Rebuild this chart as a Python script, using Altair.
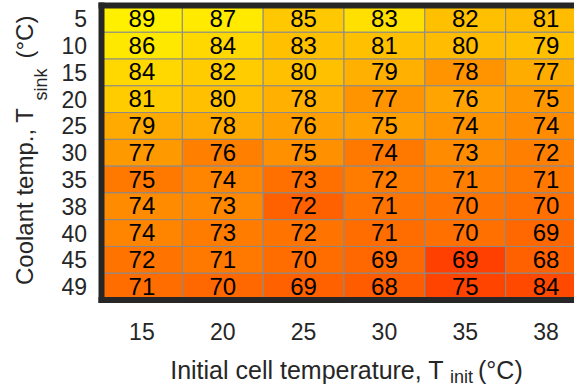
import altair as alt
import pandas as pd

# Columns: initial cell temperature (°C); rows: coolant temperature (°C)
t_init = [15, 20, 25, 30, 35, 38]
t_sink = [5, 10, 15, 20, 25, 30, 35, 38, 40, 45, 49]

# Cell labels (row by row, coolant temp 5 -> 49)
values = [
    [89, 87, 85, 83, 82, 81],
    [86, 84, 83, 81, 80, 79],
    [84, 82, 80, 79, 78, 77],
    [81, 80, 78, 77, 76, 75],
    [79, 78, 76, 75, 74, 74],
    [77, 76, 75, 74, 73, 72],
    [75, 74, 73, 72, 71, 71],
    [74, 73, 72, 71, 70, 70],
    [74, 73, 72, 71, 70, 69],
    [72, 71, 70, 69, 69, 68],
    [71, 70, 69, 68, 75, 84],
]

# Colour level of each cell (0 = red, 255 = yellow)
shade = [
    [240, 234, 200, 224, 192, 188],
    [232, 216, 192, 192, 188, 192],
    [216, 204, 192, 176, 148, 172],
    [204, 192, 176, 148, 164, 152],
    [170, 170, 160, 160, 148, 140],
    [153, 128, 144, 120, 140, 128],
    [120, 132, 112, 124, 128, 120],
    [140, 136, 96, 116, 116, 112],
    [132, 124, 116, 108, 112, 104],
    [116, 120, 108, 104, 64, 96],
    [108, 104, 96, 92, 68, 72],
]

rows = []
for i, ts in enumerate(t_sink):
    for j, ti in enumerate(t_init):
        rows.append({"tinit": ti, "tsink": ts, "value": values[i][j], "shade": shade[i][j]})
df = pd.DataFrame(rows)

FONT = "Liberation Sans"
DARK = "#262626"

x_enc = alt.X("tinit:O", sort=t_init,
              scale=alt.Scale(range=[0, 485], paddingInner=0, paddingOuter=0),
              axis=alt.Axis(title=None, labelAngle=0, labelFontSize=23, labelFont=FONT,
                            labelColor=DARK, ticks=False, tickSize=0, domain=False,
                            labelPadding=39, labelBaseline="alphabetic", grid=False))
y_enc = alt.Y("tsink:O", sort=t_sink,
              scale=alt.Scale(paddingInner=0, paddingOuter=0),
              axis=alt.Axis(title=None, labelFontSize=23, labelFont=FONT, labelColor=DARK,
                            ticks=False, tickSize=0, domain=False, labelPadding=15,
                            labelBaseline="middle", labelOffset=1.5, grid=False))

base = alt.Chart(df)

cells = base.mark_rect(stroke="#8a8a8a", strokeWidth=1).encode(
    x=x_enc, y=y_enc,
    color=alt.Color("shade:Q",
                    scale=alt.Scale(domain=[0, 255], range=["#ff0000", "#ffff00"],
                                    interpolate="rgb"),
                    legend=None),
)

labels = base.mark_text(fontSize=24, font=FONT, color="black", baseline="middle", dy=1).encode(
    x=x_enc, y=y_enc, text="value:Q"
)

one = alt.Data(values=[{"k": 0}])
frame_kw = dict(color=DARK, strokeWidth=6, strokeCap="square")
top = alt.Chart(one).mark_rule(**frame_kw).encode(
    x=alt.value(0), x2=alt.value(480), y=alt.value(0))
left = alt.Chart(one).mark_rule(**frame_kw).encode(
    x=alt.value(0), y=alt.value(0), y2=alt.value(294.5))
bottom = alt.Chart(one).mark_rule(**frame_kw).encode(
    x=alt.value(0), x2=alt.value(480), y=alt.value(294.5))

txt = dict(font=FONT, color=DARK, baseline="alphabetic")
x_main = alt.Chart(one).mark_text(text="Initial cell temperature, T", fontSize=25, align="right", **txt).encode(
    x=alt.value(342), y=alt.value(373))
x_sub = alt.Chart(one).mark_text(text="init", fontSize=18, align="left", **txt).encode(
    x=alt.value(348.5), y=alt.value(377))
x_unit = alt.Chart(one).mark_text(text="(°C)", fontSize=25, align="left", **txt).encode(
    x=alt.value(376.5), y=alt.value(373))

y_main = alt.Chart(one).mark_text(text="Coolant temp., T", fontSize=24, align="right", angle=270, **txt).encode(
    x=alt.value(-68.5), y=alt.value(102.5))
y_sub = alt.Chart(one).mark_text(text="sink", fontSize=18, align="left", angle=270, **txt).encode(
    x=alt.value(-54.5), y=alt.value(95))
y_unit = alt.Chart(one).mark_text(text="(°C)", fontSize=24, align="left", angle=270, **txt).encode(
    x=alt.value(-68.5), y=alt.value(53))

chart = alt.layer(
    cells, labels, top, left, bottom, x_main, x_sub, x_unit, y_main, y_sub, y_unit
).properties(
    width=472.5, height=294.5,
    padding={"left": 101.5, "top": 5.5, "right": 0, "bottom": 87},
    autosize="none",
    background="white",
).configure_view(stroke=None)

chart.save("out.html", embed_options={"renderer": "svg", "actions": False})
